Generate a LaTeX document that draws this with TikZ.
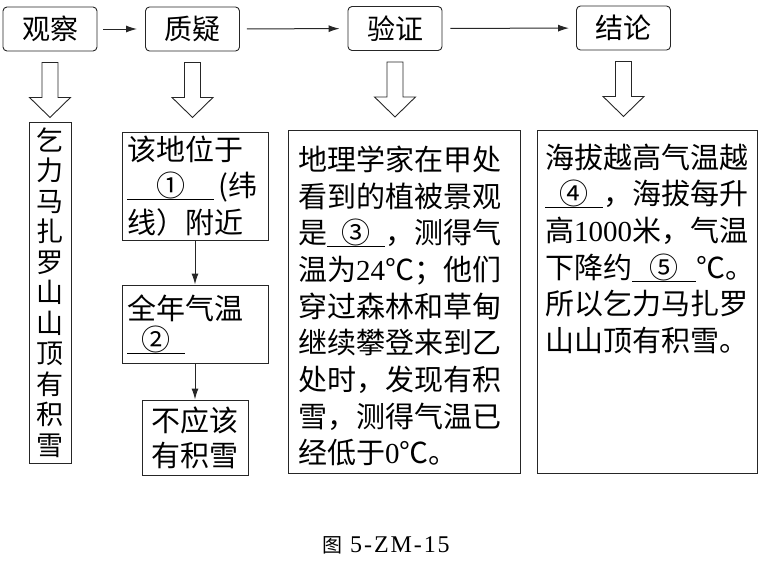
\documentclass[tikz,border=0pt]{standalone}
\usepackage{fontspec}
\setmainfont{Liberation Serif}
\newfontfamily\cjk{Noto Sans CJK SC}
\newfontfamily\capfont[LetterSpace=8]{Liberation Serif}
\usetikzlibrary{arrows.meta}
\newcommand\dig[1]{{\rmfamily #1}}
\newcommand\blank[2]{\makebox[#1]{#2}\llap{\rule[-3pt]{#1}{0.6pt}}}

\tikzset{
  topbox/.style={draw=black!85, line width=0.9pt, rounded corners=4pt,
    minimum width=94pt, minimum height=44pt, inner sep=0pt,
    font=\cjk\fontsize{28}{28}\selectfont},
  framebox/.style={draw=black!85, line width=0.9pt, inner sep=0pt},
  askbox/.style={framebox, align=left, text width=136pt, inner xsep=5pt,
    font=\cjk\fontsize{29}{36.5}\selectfont},
  boxtext/.style={font=\cjk\fontsize{29}{36.7}\selectfont, align=left,
    inner sep=0pt, anchor=north west},
  flow/.style={-{Latex[length=11pt,width=7pt]}, line width=1pt, black!85},
  hollowline/.style={draw=black!85, line width=0.9pt},
  hollow/.pic={\draw[hollowline] (-8,0) -- (-8,35) -- (-20.5,35) -- (0,55)
    -- (20.5,35) -- (8,35) -- (8,0) -- cycle;}
}

\begin{document}
\begin{tikzpicture}[x=1pt,y=-1pt]
  \useasboundingbox (0,0) rectangle (759,565);

  % top row
  \node[topbox] (obs) at (50,29) {观察};
  \node[topbox] (ask) at (192.5,29) {质疑};
  \node[topbox] (test) at (395,28.5) {验证};
  \node[topbox] (concl) at (623.5,28) {结论};

  \draw[flow, shorten <=6pt, shorten >=8pt] (obs) -- (ask);
  \draw[flow, shorten <=7pt, shorten >=8pt] (ask) -- (test);
  \draw[flow, shorten <=8pt, shorten >=7pt] (test) -- (concl);

  \pic at ([yshift=-11pt]obs.south) {hollow};
  \pic at ([yshift=-11pt]ask.south) {hollow};
  \pic at ([yshift=-11pt]test.south) {hollow};
  \pic at ([yshift=-11pt]concl.south) {hollow};

  % observation
  \node[framebox, minimum width=42pt, minimum height=341pt, align=center,
    font=\cjk\fontsize{27}{30.5}\selectfont] (obsbox) at (50,292.5)
    {乞\\力\\马\\扎\\罗\\山\\山\\顶\\有\\积\\雪};

  % question
  \node[askbox, minimum height=108pt] (askA) at (195,186)
    {该地位于\\\blank{3em}{①}\,(纬\\线）附近};
  \node[askbox, minimum height=78pt] (askB) at (195,324)
    {全年气温\\[-5pt]\blank{2em}{②}};
  \node[framebox, minimum width=106pt, minimum height=75pt, align=center,
    font=\cjk\fontsize{29}{35}\selectfont] (askC) at (195,437.5)
    {不应该\\有积雪};
  \draw[flow] (askA) -- (askB);
  \draw[flow] (askB) -- (askC);

  % test
  \node[framebox, minimum width=232pt, minimum height=343pt] (testbox) at (404,301.5) {};
  \node[boxtext] (testtext) at (298,145.5) {%
    地理学家在甲处\\
    看到的植被景观\\
    是\blank{2em}{③}，测得气\\
    温为\dig{24}℃；他们\\
    穿过森林和草甸\\
    继续攀登来到乙\\
    处时，发现有积\\
    雪，测得气温已\\
    经低于\dig{0}℃。};

  % conclusion
  \node[framebox, minimum width=220pt, minimum height=343pt] (conclbox) at (647,301.5) {};
  \node[boxtext] (concltext) at (545,143.5) {%
    海拔越高气温越\\
    \blank{2em}{④}，海拔每升\\
    高\dig{1000}米，气温\\
    下降约\blank{2.2em}{⑤}℃。\\
    所以乞力马扎罗\\
    山山顶有积雪。};

  \node[font=\capfont\fontsize{24}{24}\selectfont] (cap) at (386,545)
    {{\cjk\fontsize{20}{20}\selectfont 图}\ 5-ZM-15};
\end{tikzpicture}
\end{document}
